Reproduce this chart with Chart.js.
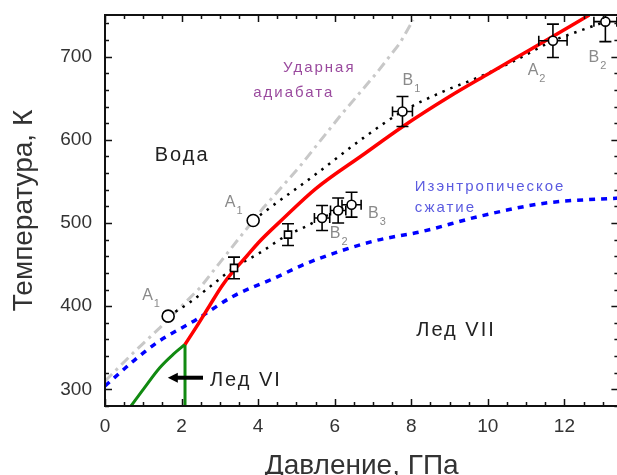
<!DOCTYPE html>
<html>
<head>
<meta charset="utf-8">
<script src="https://cdn.jsdelivr.net/npm/chart.js@4.4.1/dist/chart.umd.min.js"></script>
<style>
  html, body { margin: 0; padding: 0; background: #fff; overflow: hidden; }
  #wrap { width: 626px; height: 475px; }
</style>
</head>
<body>
<div id="wrap"><canvas id="c" width="626" height="475"></canvas></div>
<script>
const FONT = '"Liberation Sans", Arial, sans-serif';

// деления осей
const xTicks = [0, 2, 4, 6, 8, 10, 12];
const yTicks = [300, 400, 500, 600, 700];

// кривая плавления льда VII
const redP = [2.09, 2.4, 2.75, 3.05, 3.35, 3.7, 4.0, 4.65, 5.5, 6.74, 7.78, 9.0, 10.04, 11.09, 12.65];
const redT = [354, 376, 402, 424, 442, 460, 476, 505, 541, 582, 616, 652, 680, 708, 750];

// кривая плавления льда VI + граница VI/VII
const greenP = [0.68, 1.0, 1.43, 1.78, 2.09];
const greenT = [280, 300, 326, 342, 354];
const wallP = [2.09, 2.09];
const wallT = [354, 280];

// изэнтропа
const isoP = [0, 0.74, 1.35, 2.39, 3.35, 4.39, 5.35, 7.0, 8.3, 9.78, 11.52, 13.45];
const isoT = [304, 334, 356, 384, 412, 433, 453, 478, 490, 508, 524, 530];

// ударная адиабата
const hugP = [0, 0.74, 1.43, 2.48, 3.44, 4.13, 5.09, 6.13, 7.09, 7.7, 8.05];
const hugT = [310, 344, 374, 422, 478, 518, 568, 628, 680, 716, 744];

// пунктир через точки A1-B1-A2-B2
const upP = [3.87, 4.3, 5.43, 6.74, 7.77, 8.83, 9.7, 10.74, 11.7, 12.4, 13.07];
const upT = [503, 518, 556, 602, 634, 658, 674, 696, 719, 731, 742];

// пунктир через A1-...-B2-B3
const loP = [1.65, 2.2, 2.65, 3.37, 4.04, 4.78, 5.17, 5.67, 6.09, 6.44];
const loT = [388, 404, 420, 446, 464, 486, 494, 506, 515, 522];

// экспериментальные точки
const openP = [1.65, 3.87];
const openT = [388, 503];
const sqP = [3.37, 4.78];
const sqT = [446, 486];
const sqErrT = [13, 13];
const ptP = [5.67, 6.09, 6.44, 7.77, 11.7, 13.07];
const ptT = [506, 515, 522, 634, 719, 742];
const ptErrT = [15, 15, 15, 18, 20, 24];
const ptErrP = [0.2, 0.2, 0.25, 0.26, 0.37, 0.3];

const xy = (P, T) => P.map((p, i) => ({ x: p, y: T[i] }));

const line = (P, T, color, width, dash, extra) => Object.assign({
  type: 'line',
  data: xy(P, T),
  borderColor: color,
  borderWidth: width,
  borderDash: dash,
  pointRadius: 0,
  fill: false,
  cubicInterpolationMode: 'monotone',
}, extra || {});

// рамка с внутренними делениями
const frame = {
  id: 'frame',
  afterDatasetsDraw(chart) {
    const { ctx, chartArea: a, scales: { x, y } } = chart;
    ctx.save();
    ctx.strokeStyle = '#111';
    ctx.lineWidth = 2;
    ctx.strokeRect(a.left, a.top, a.right - a.left, a.bottom - a.top);
    ctx.lineWidth = 1.5;
    ctx.beginPath();
    for (let v = 0; v <= x.max; v += 0.5) {
      const px = Math.round(x.getPixelForValue(v)) + 0.5;
      const len = v % 2 === 0 ? 7 : 4;
      ctx.moveTo(px, a.bottom); ctx.lineTo(px, a.bottom - len);
      ctx.moveTo(px, a.top); ctx.lineTo(px, a.top + len);
    }
    for (let v = 280; v <= y.max; v += 20) {
      const py = Math.round(y.getPixelForValue(v)) + 0.5;
      const len = v % 100 === 0 ? 7 : 4;
      ctx.moveTo(a.left, py); ctx.lineTo(a.left + len, py);
      ctx.moveTo(a.right, py); ctx.lineTo(a.right - len, py);
    }
    ctx.stroke();
    ctx.restore();
  },
};

// планки погрешностей под маркерами
const errorBars = {
  id: 'errorBars',
  beforeDatasetDraw(chart, args) {
    const ds = chart.data.datasets[args.index];
    if (!ds.errT) return;
    const { ctx, chartArea: a, scales: { x, y } } = chart;
    ctx.save();
    ctx.beginPath();
    ctx.rect(a.left, a.top, a.right - a.left, a.bottom - a.top);
    ctx.clip();
    ctx.strokeStyle = '#000';
    ctx.lineWidth = 1.6;
    ds.data.forEach((pt, i) => {
      const cx = x.getPixelForValue(pt.x);
      const cy = y.getPixelForValue(pt.y);
      const dT = ds.errT[i];
      const dP = ds.errP ? ds.errP[i] : 0;
      ctx.beginPath();
      if (dT) {
        const t = y.getPixelForValue(pt.y + dT);
        const b = y.getPixelForValue(pt.y - dT);
        ctx.moveTo(cx, t); ctx.lineTo(cx, b);
        ctx.moveTo(cx - 6, t); ctx.lineTo(cx + 6, t);
        ctx.moveTo(cx - 6, b); ctx.lineTo(cx + 6, b);
      }
      if (dP) {
        const l = x.getPixelForValue(pt.x - dP);
        const r = x.getPixelForValue(pt.x + dP);
        ctx.moveTo(l, cy); ctx.lineTo(r, cy);
        ctx.moveTo(l, cy - 5); ctx.lineTo(l, cy + 5);
        ctx.moveTo(r, cy - 5); ctx.lineTo(r, cy + 5);
      }
      ctx.stroke();
    });
    ctx.restore();
  },
};

// подписи на поле графика
const notes = {
  id: 'notes',
  afterDatasetsDraw(chart) {
    const { ctx, scales: { x, y } } = chart;
    const X = (v) => x.getPixelForValue(v);
    const Y = (v) => y.getPixelForValue(v);
    ctx.save();
    ctx.textBaseline = 'alphabetic';
    ctx.textAlign = 'left';

    const text = (s, p, t, size, color, sp) => {
      ctx.font = size + 'px ' + FONT;
      ctx.fillStyle = color;
      ctx.letterSpacing = sp + 'px';
      ctx.fillText(s, X(p), Y(t));
      ctx.letterSpacing = '0px';
    };
    const mark = (s, n, p, t) => {
      ctx.fillStyle = '#8a8a8a';
      ctx.font = '16px ' + FONT;
      ctx.fillText(s, X(p), Y(t));
      const w = ctx.measureText(s).width;
      ctx.font = '11px ' + FONT;
      ctx.fillText(n, X(p) + w + 1, Y(t) + 7);
    };

    text('Вода', 1.30, 574, 20, '#222', 2);
    text('Лед VII', 8.13, 364, 20, '#222', 2);
    text('Лед VI', 2.74, 304, 20, '#222', 2);
    text('Ударная', 4.65, 681, 15, '#9a4a9e', 2);
    text('адиабата', 3.87, 652, 15, '#9a4a9e', 2);
    text('Изэнтропическое', 8.09, 539, 15, '#5b5be0', 2);
    text('сжатие', 8.09, 513, 15, '#5b5be0', 2);

    mark('A', '1', 0.97, 408);
    mark('A', '1', 3.13, 519);
    mark('B', '1', 7.77, 666);
    mark('A', '2', 11.04, 678);
    mark('B', '2', 12.63, 693);
    mark('B', '2', 5.87, 482);
    mark('B', '3', 6.87, 506);

    // стрелка к льду VI
    const y0 = Y(314);
    const x0 = X(1.64), x1 = X(2.56);
    ctx.strokeStyle = '#000';
    ctx.lineWidth = 4;
    ctx.beginPath();
    ctx.moveTo(x0 + 6, y0); ctx.lineTo(x1, y0);
    ctx.stroke();
    ctx.fillStyle = '#000';
    ctx.beginPath();
    ctx.moveTo(x0, y0); ctx.lineTo(x0 + 10, y0 - 5); ctx.lineTo(x0 + 10, y0 + 5);
    ctx.closePath();
    ctx.fill();
    ctx.restore();
  },
};

const marker = { borderColor: '#000', backgroundColor: '#fff', borderWidth: 1.6 };

new Chart(document.getElementById('c'), {
  type: 'line',
  data: {
    datasets: [
      Object.assign({ type: 'scatter', data: xy(ptP, ptT), errT: ptErrT, errP: ptErrP, pointStyle: 'circle', pointRadius: 4.5 }, marker),
      Object.assign({ type: 'scatter', data: xy(sqP, sqT), errT: sqErrT, pointStyle: 'rect', pointRadius: 5 }, marker),
      Object.assign({ type: 'scatter', data: xy(openP, openT), pointStyle: 'circle', pointRadius: 6 }, marker),
      line(redP, redT, '#ff0000', 3.5, []),
      line(greenP, greenT, '#118a11', 3, []),
      line(wallP, wallT, '#118a11', 3, [], { cubicInterpolationMode: 'default', tension: 0 }),
      line(upP, upT, '#000', 2.5, [2.5, 6]),
      line(loP, loT, '#000', 2.5, [2.5, 6]),
      line(isoP, isoT, '#0000ff', 3.5, [6, 6]),
      line(hugP, hugT, '#c8c8c8', 3, [10, 5, 3, 5], { cubicInterpolationMode: 'default', tension: 0 }),
    ],
  },
  options: {
    responsive: false,
    animation: false,
    layout: { padding: { top: 15, right: 0, left: 0, bottom: 0 } },
    plugins: { legend: { display: false }, tooltip: { enabled: false } },
    scales: {
      x: {
        type: 'linear', min: 0, max: 13.41,
        grid: { display: false, drawTicks: false },
        border: { display: false },
        afterBuildTicks: (s) => { s.ticks = xTicks.map((v) => ({ value: v })); },
        afterFit: (s) => { s.height = 69; s.paddingLeft = 0; s.paddingRight = 0; },
        ticks: { padding: 9, color: '#333', font: { size: 19, family: FONT } },
        title: { display: true, text: 'Давление, ГПа', color: '#333', font: { size: 28, family: FONT, lineHeight: 0.6 }, padding: 0 },
      },
      y: {
        type: 'linear', min: 280, max: 750,
        grid: { display: false, drawTicks: false },
        border: { display: false },
        afterBuildTicks: (s) => { s.ticks = yTicks.map((v) => ({ value: v })); },
        afterFit: (s) => { s.width = 105; s.paddingTop = 0; s.paddingBottom = 0; },
        ticks: { padding: 13, color: '#333', font: { size: 19, family: FONT } },
        title: { display: true, text: 'Температура, К', color: '#333', font: { size: 28, family: FONT, lineHeight: 1 }, padding: { top: 10, bottom: 0 } },
      },
    },
  },
  plugins: [errorBars, notes, frame],
});
</script>
</body>
</html>
